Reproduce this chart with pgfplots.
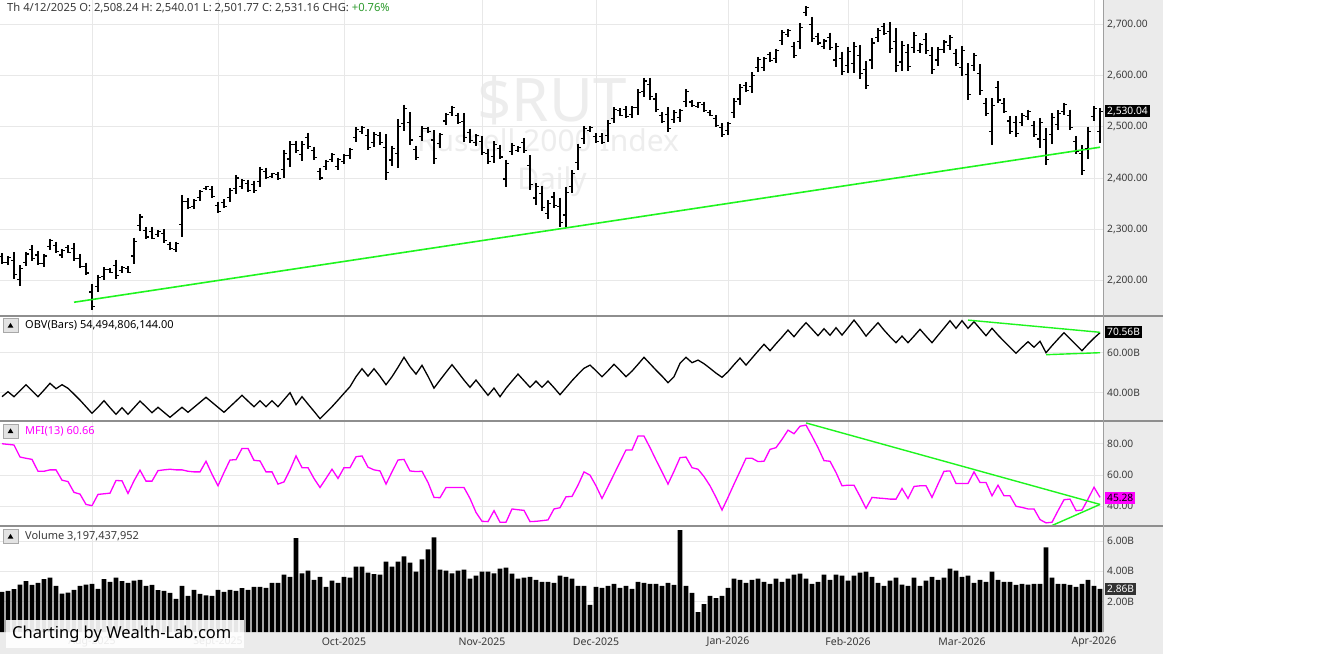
\documentclass[border=0pt]{standalone}
\usepackage{pgfplots}
\pgfplotsset{compat=1.18}
\usepackage{pgfplotstable}
\usepackage{fontspec}
\setmainfont{Noto Sans}
\definecolor{gridc}{HTML}{E8E8E8}
\definecolor{stripc}{HTML}{EBEBEB}
\definecolor{sepc}{HTML}{8E8E8E}
\definecolor{trend}{HTML}{1EF51E}
\definecolor{mfic}{HTML}{FF00FF}
\definecolor{txt}{HTML}{3A3A3A}
\definecolor{wm}{HTML}{EDEDED}
\definecolor{chg}{HTML}{2E9B2E}
\definecolor{btn}{HTML}{E3E3E3}
\definecolor{btnb}{HTML}{A8A8A8}
\definecolor{volbox}{HTML}{333333}

\pgfdeclareplotmark{otick}{\pgfpathmoveto{\pgfqpoint{-2.6pt}{0pt}}\pgfpathlineto{\pgfqpoint{0pt}{0pt}}\pgfusepathqstroke}
\pgfdeclareplotmark{ctick}{\pgfpathmoveto{\pgfqpoint{0pt}{0pt}}\pgfpathlineto{\pgfqpoint{2.6pt}{0pt}}\pgfusepathqstroke}

\pgfplotstableread{
i o h l c
0 2247 2253 2233 2236
1 2235 2248 2230 2245
2 2240 2256 2204 2212
3 2202 2230 2190 2224
4 2236 2256 2228 2252
5 2260 2269 2239 2244
6 2250 2258 2230 2234
7 2234 2252 2227 2248
8 2267 2282 2260 2279
9 2269 2276 2253 2256
10 2250 2261 2245 2259
11 2264 2269 2253 2255
12 2263 2273 2239 2244
13 2244 2252 2224 2228
14 2228 2235 2211 2215
15 2178 2194 2142 2150
16 2188 2212 2178 2207
17 2209 2226 2202 2222
18 2221 2224 2214 2216
19 2230 2241 2204 2210
20 2219 2228 2215 2226
21 2224 2228 2214 2216
22 2248 2284 2232 2276
23 2307 2329 2297 2324
24 2298 2305 2281 2285
25 2296 2305 2281 2283
26 2290 2298 2286 2296
27 2292 2300 2274 2278
28 2271 2276 2260 2262
29 2261 2276 2255 2273
30 2310 2367 2286 2355
31 2354 2361 2339 2342
32 2345 2359 2339 2356
33 2362 2376 2356 2373
34 2379 2384 2377 2383
35 2377 2384 2361 2364
36 2347 2354 2331 2334
37 2353 2359 2341 2344
38 2362 2380 2354 2376
39 2380 2406 2369 2400
40 2384 2398 2378 2395
41 2390 2397 2372 2376
42 2388 2395 2371 2375
43 2394 2422 2382 2416
44 2413 2420 2398 2401
45 2403 2410 2400 2408
46 2407 2411 2397 2399
47 2416 2455 2400 2447
48 2437 2472 2422 2465
49 2466 2473 2449 2453
50 2445 2472 2433 2466
51 2479 2488 2457 2462
52 2454 2461 2436 2440
53 2413 2420 2397 2400
54 2422 2436 2416 2433
55 2436 2448 2431 2445
56 2423 2439 2416 2436
57 2433 2446 2428 2443
58 2444 2459 2437 2456
59 2479 2499 2470 2495
60 2490 2501 2485 2499
61 2483 2495 2454 2460
62 2469 2489 2461 2485
63 2482 2490 2465 2469
64 2459 2485 2397 2410
65 2435 2463 2423 2457
66 2448 2514 2420 2500
67 2507 2543 2491 2535
68 2509 2528 2465 2474
69 2455 2463 2436 2440
70 2481 2501 2472 2497
71 2496 2500 2488 2490
72 2474 2493 2428 2438
73 2468 2488 2459 2484
74 2511 2527 2504 2524
75 2527 2541 2521 2538
76 2521 2527 2506 2509
77 2510 2527 2470 2479
78 2488 2496 2469 2473
79 2469 2485 2462 2482
80 2471 2482 2444 2450
81 2448 2456 2428 2432
82 2442 2472 2429 2466
83 2457 2465 2437 2441
84 2398 2436 2382 2428
85 2451 2468 2444 2464
86 2454 2462 2450 2460
87 2469 2478 2449 2453
88 2424 2444 2377 2387
89 2361 2390 2348 2384
90 2370 2385 2335 2343
91 2331 2357 2320 2351
92 2363 2373 2341 2346
93 2345 2362 2304 2313
94 2328 2383 2305 2371
95 2384 2415 2371 2408
96 2431 2467 2415 2459
97 2477 2501 2466 2496
98 2493 2501 2490 2499
99 2481 2487 2468 2471
100 2481 2487 2466 2469
101 2483 2513 2470 2507
102 2516 2538 2507 2533
103 2531 2536 2520 2522
104 2533 2540 2517 2520
105 2524 2540 2517 2537
106 2538 2573 2523 2566
107 2569 2595 2558 2589
108 2582 2595 2552 2558
109 2554 2565 2528 2534
110 2522 2529 2507 2510
111 2524 2538 2490 2497
112 2514 2532 2507 2528
113 2518 2535 2510 2531
114 2549 2573 2539 2568
115 2548 2552 2539 2541
116 2540 2549 2536 2547
117 2543 2549 2528 2531
118 2528 2532 2520 2522
119 2516 2523 2500 2503
120 2499 2507 2480 2484
121 2492 2510 2484 2506
122 2528 2555 2517 2549
123 2554 2583 2542 2577
124 2581 2587 2568 2571
125 2578 2606 2566 2600
126 2615 2636 2606 2631
127 2616 2636 2608 2632
128 2640 2646 2626 2629
129 2632 2652 2624 2648
130 2668 2688 2659 2684
131 2679 2690 2674 2688
132 2656 2665 2634 2639
133 2666 2702 2651 2694
134 2722 2735 2716 2732
135 2699 2714 2665 2672
136 2676 2683 2659 2663
137 2657 2670 2651 2667
138 2673 2683 2650 2655
139 2630 2663 2616 2656
140 2633 2646 2601 2608
141 2619 2655 2604 2647
142 2623 2665 2605 2656
143 2639 2659 2593 2603
144 2612 2628 2573 2581
145 2630 2672 2612 2663
146 2673 2692 2665 2688
147 2695 2702 2679 2682
148 2686 2704 2643 2652
149 2666 2692 2606 2619
150 2626 2667 2609 2658
151 2645 2661 2609 2617
152 2655 2684 2643 2678
153 2649 2663 2643 2660
154 2670 2682 2642 2648
155 2639 2655 2603 2611
156 2630 2655 2619 2650
157 2651 2669 2644 2665
158 2658 2678 2650 2674
159 2642 2652 2618 2623
160 2616 2657 2599 2648
161 2602 2624 2552 2563
162 2620 2644 2609 2639
163 2604 2622 2562 2571
164 2545 2555 2520 2525
165 2491 2555 2464 2541
166 2576 2589 2546 2552
167 2546 2555 2526 2530
168 2511 2521 2486 2491
169 2508 2520 2480 2486
170 2508 2526 2501 2522
171 2519 2533 2513 2530
172 2502 2511 2480 2485
173 2476 2517 2458 2508
174 2475 2497 2425 2436
175 2484 2527 2466 2518
176 2505 2532 2493 2526
177 2530 2547 2523 2543
178 2521 2533 2493 2499
179 2472 2482 2447 2452
180 2447 2464 2406 2415
181 2457 2500 2438 2491
182 2520 2540 2512 2536
183 2490 2536 2468 2530
}\ohlc

\pgfplotstableread{
i obv mfi v
0 38.0 80.0 2.64
1 40.5 79.6 2.71
2 38.0 79.2 2.82
3 41.0 71.5 3.13
4 44.0 70.7 3.36
5 41.0 70.0 3.11
6 38.0 62.4 3.24
7 41.3 62.4 3.49
8 44.7 63.3 3.58
9 42.0 63.3 3.04
10 44.0 56.7 2.53
11 42.2 55.8 2.60
12 39.3 48.9 2.78
13 36.3 47.8 3.04
14 33.0 41.2 3.13
15 29.7 40.4 3.18
16 32.7 47.6 2.84
17 36.0 48.0 3.49
18 32.5 48.4 3.31
19 29.2 56.5 3.58
20 32.5 56.3 3.36
21 29.2 48.2 3.24
22 32.5 56.3 3.38
23 35.8 63.1 3.44
24 33.0 56.1 3.04
25 30.0 56.1 3.11
26 32.7 62.8 2.76
27 30.2 63.3 2.71
28 27.7 63.7 2.58
29 30.2 63.3 2.18
30 32.7 63.3 3.04
31 30.2 62.4 2.38
32 32.7 62.0 2.78
33 35.2 62.0 2.51
34 37.7 68.8 2.42
35 35.2 60.5 2.38
36 32.7 53.1 2.78
37 30.2 61.6 2.64
38 33.0 69.6 2.78
39 35.8 69.8 2.71
40 38.7 77.0 2.89
41 35.8 77.0 2.78
42 33.0 69.4 2.98
43 36.0 69.0 2.98
44 33.0 62.0 2.91
45 36.0 62.0 3.24
46 33.0 54.2 3.24
47 36.5 55.6 3.78
48 40.0 63.3 3.64
49 34.0 72.2 6.18
50 38.0 64.7 3.87
51 34.3 64.7 4.04
52 30.7 57.8 3.44
53 27.0 52.0 3.64
54 30.0 57.8 2.98
55 33.0 63.7 3.38
56 36.3 57.8 3.24
57 39.7 64.7 3.64
58 43.0 64.7 3.58
59 48.0 71.7 4.31
60 52.0 72.2 4.31
61 48.3 65.0 3.91
62 52.0 63.3 3.82
63 48.2 62.6 3.78
64 44.0 54.2 4.64
65 48.0 62.0 4.31
66 52.7 69.6 4.64
67 57.7 70.0 4.98
68 53.0 62.6 4.58
69 49.3 62.2 3.98
70 53.7 62.4 4.78
71 48.2 55.2 5.44
72 42.3 45.7 6.24
73 46.3 45.5 4.11
74 50.2 52.0 4.04
75 54.0 52.0 3.87
76 50.2 52.0 4.04
77 46.3 52.0 4.11
78 42.7 45.0 3.51
79 46.3 36.1 3.71
80 42.5 30.4 3.98
81 38.7 30.2 3.98
82 42.3 37.2 3.87
83 38.0 29.8 4.18
84 42.2 29.8 4.24
85 45.8 38.3 3.84
86 49.3 37.8 3.51
87 46.0 37.4 3.58
88 42.7 30.2 3.64
89 45.8 30.4 3.44
90 42.7 30.8 3.31
91 45.8 31.3 3.31
92 42.5 38.3 3.24
93 39.0 39.1 3.71
94 42.5 46.1 3.64
95 46.0 46.3 3.51
96 49.2 53.5 3.04
97 52.2 62.0 3.04
98 53.8 59.9 1.78
99 51.0 53.1 2.98
100 48.0 45.0 2.91
101 51.0 52.7 3.04
102 54.2 60.5 3.18
103 51.2 68.3 2.91
104 48.0 76.0 3.04
105 50.8 76.0 2.84
106 54.2 84.9 3.31
107 57.7 84.9 3.24
108 54.5 77.5 3.18
109 51.3 69.6 3.18
110 48.3 62.0 3.04
111 45.0 54.2 3.24
112 48.0 62.4 3.11
113 54.7 71.1 6.71
114 57.7 71.5 3.04
115 55.0 64.7 2.58
116 56.3 63.7 1.31
117 54.5 59.0 1.84
118 52.2 53.1 2.38
119 49.8 45.7 2.24
120 47.7 37.6 2.38
121 50.5 45.7 2.91
122 54.0 54.2 3.51
123 57.3 62.4 3.44
124 53.8 70.7 3.24
125 57.3 70.7 3.44
126 60.8 68.6 3.51
127 64.2 68.8 3.31
128 61.0 76.4 3.18
129 64.5 77.5 3.51
130 67.8 82.8 3.31
131 71.3 88.7 3.51
132 68.0 86.4 3.78
133 71.7 91.2 3.84
134 75.0 91.9 3.51
135 71.8 84.9 3.18
136 68.5 77.5 3.31
137 72.0 69.2 3.78
138 68.7 68.8 3.44
139 72.5 61.6 3.78
140 68.8 53.1 3.71
141 72.5 53.5 3.38
142 76.3 53.5 3.71
143 72.5 46.3 3.91
144 68.3 38.7 3.98
145 71.7 45.7 3.64
146 75.0 45.3 3.24
147 71.3 45.0 3.04
148 68.0 44.6 3.38
149 65.0 44.6 3.58
150 68.3 51.4 3.13
151 65.0 45.0 3.04
152 68.3 52.7 3.58
153 71.7 53.1 3.04
154 68.3 53.1 3.38
155 65.0 45.7 3.64
156 68.7 54.2 3.44
157 72.3 62.4 3.58
158 76.0 62.6 4.18
159 72.2 54.6 4.04
160 76.0 54.6 3.64
161 72.2 54.6 3.71
162 75.5 62.0 3.24
163 72.0 55.2 3.44
164 68.5 55.2 3.31
165 72.2 46.7 3.98
166 68.8 53.5 3.44
167 65.7 46.7 3.31
168 62.7 46.7 3.31
169 59.7 40.0 3.11
170 62.7 39.3 3.18
171 65.5 38.3 3.13
172 62.7 38.3 3.18
173 65.7 31.5 3.18
174 60.0 29.4 5.58
175 63.5 29.8 3.58
176 66.8 37.2 3.18
177 70.0 44.2 3.18
178 67.0 44.6 3.11
179 64.0 37.2 2.98
180 61.0 37.6 3.18
181 64.3 44.6 3.44
182 67.3 52.2 3.04
183 70.0 45.7 2.84
}\ind

\pgfplotsset{pane/.style={
  scale only axis, width=1103pt, xmin=-0.3333, xmax=183.5, anchor=south west,
  axis line style={draw=none}, tick style={draw=none}, major tick length=0pt,
  xtick={15,36,57,80,99,121,141,160,182}, xticklabels={},
  xmajorgrids, ymajorgrids, grid style={gridc, line width=0.9pt},
  yticklabel pos=right,
  yticklabel style={anchor=west, inner sep=0pt, xshift=4pt, font=\fontsize{10.2}{12}\selectfont, text=txt},
}}

\begin{document}
\begin{tikzpicture}[x=1pt,y=1pt]
\fill[white] (0,0) rectangle (1322,654);
\fill[stripc] (1103,0) rectangle (1163,654);
\fill[stripc] (0,0) rectangle (1163,22);
% watermark
\node[font=\fontsize{60}{60}\selectfont\bfseries, text=wm] at (552,554) {\$RUT};
\node[font=\fontsize{30}{30}\selectfont\bfseries, text=wm] at (548,514) {Russell 2000 Index};
\node[font=\fontsize{30}{30}\selectfont\bfseries, text=wm] at (552,472) {Daily};

% price pane
\begin{axis}[pane, at={(0pt,338pt)}, height=316pt, ymin=2131.2, ymax=2746.8,
  ytick={2200,2300,2400,2500,2600,2700},
  yticklabels={{2,200.00},{2,300.00},{2,400.00},{2,500.00},{2,600.00},{2,700.00}}]
\addplot[draw=none, mark=none, forget plot, error bars/.cd, y dir=minus, y explicit, error mark=none,
  error bar style={draw=black, line width=1.1pt}]
  table[x=i, y=h, y error expr=\thisrow{h}-\thisrow{l}] {\ohlc};
\addplot[only marks, mark=otick, mark options={black, line width=1.1pt}] table[x=i, y=o] {\ohlc};
\addplot[only marks, mark=ctick, mark options={black, line width=1.1pt}] table[x=i, y=c] {\ohlc};
\addplot[trend, line width=1.6pt] coordinates {(12,2158) (183,2460)};
\end{axis}

% OBV pane
\begin{axis}[pane, at={(0pt,233pt)}, height=104pt, ymin=25.85, ymax=77.85,
  ytick={40,60}, yticklabels={40.00B,60.00B}]
\addplot[black, line width=1.3pt] table[x=i, y=obv] {\ind};
\addplot[trend, line width=1.4pt] coordinates {(161,76.3) (183,70.2)};
\addplot[trend, line width=1.4pt] coordinates {(174,59.0) (183,60.0)};
\end{axis}

% MFI pane
\begin{axis}[pane, at={(0pt,128pt)}, height=104pt, ymin=27.4, ymax=93.9,
  ytick={40,60,80}, yticklabels={40.00,60.00,80.00}]
\addplot[mfic, line width=1.3pt] table[x=i, y=mfi] {\ind};
\addplot[trend, line width=1.4pt] coordinates {(134,93.3) (183,41.2)};
\addplot[trend, line width=1.4pt] coordinates {(175,27.7) (183,41.2)};
\end{axis}

% Volume pane
\begin{axis}[pane, at={(0pt,22pt)}, height=105pt, ymin=0, ymax=6.92,
  ytick={2,4,6}, yticklabels={2.00B,4.00B,6.00B},
  xticklabels={Aug-2025,Sept-2025,Oct-2025,Nov-2025,Dec-2025,Jan-2026,Feb-2026,Mar-2026,Apr-2026},
  xticklabel style={anchor=center, yshift=-10pt, font=\fontsize{10.5}{12}\selectfont, text=txt}]
\addplot[ybar, bar width=4.6pt, fill=black, draw=none] table[x=i, y=v] {\ind};
\end{axis}

% separators
\draw[sepc, line width=1.3pt] (0,338) -- (1163,338);
\draw[sepc, line width=1.3pt] (0,233) -- (1163,233);
\draw[sepc, line width=1.3pt] (0,128) -- (1163,128);
\draw[sepc!85, line width=1pt] (1103,22) -- (1103,654);

% header
\node[anchor=west, inner sep=0pt, font=\fontsize{11.2}{13}\selectfont, text=txt] at (7,646)
  {Th 4/12/2025 \textbf{O:} 2,508.24 \textbf{H:} 2,540.01 \textbf{L:} 2,501.77 \textbf{C:} 2,531.16 \textbf{CHG:} \textcolor{chg}{+0.76\%}};

% pane buttons and titles
\foreach \yc in {328.5,223,117.5}{
  \filldraw[fill=btn, draw=btnb, line width=0.6pt] (3,\yc-7) rectangle (18,\yc+7);
  \fill[black] (7.6,\yc-2.2) -- (13.4,\yc-2.2) -- (10.5,\yc+2.6) -- cycle;
}
\node[anchor=west, inner sep=0pt, font=\fontsize{11}{13}\selectfont, text=black] at (25,328.5) {OBV(Bars) 54,494,806,144.00};
\node[anchor=west, inner sep=0pt, font=\fontsize{11}{13}\selectfont, text=mfic] at (25,223) {MFI(13) 60.66};
\node[anchor=west, inner sep=0pt, font=\fontsize{11}{13}\selectfont, text=txt] at (25,117.5) {Volume 3,197,437,952};

% last value boxes
\node[anchor=west, fill=black, text=white, inner sep=2pt, font=\fontsize{10.2}{12}\selectfont] at (1105,543) {2,530.04};
\node[anchor=west, fill=black, text=white, inner sep=2pt, font=\fontsize{10.2}{12}\selectfont] at (1105,322) {70.56B};
\node[anchor=west, fill=mfic, text=black, inner sep=2pt, font=\fontsize{10.2}{12}\selectfont] at (1105,156) {45.28};
\node[anchor=west, fill=volbox, text=white, inner sep=2pt, font=\fontsize{10.2}{12}\selectfont] at (1105,65) {2.86B};

% credit box
\fill[white, opacity=0.9] (6,6) rectangle (244,34);
\node[anchor=west, inner sep=0pt, font=\fontsize{16.5}{18}\selectfont, text=black] at (12,20) {Charting by Wealth-Lab.com};

\pgfresetboundingbox
\path[use as bounding box] (0,0) rectangle (1322,654);
\end{tikzpicture}
\end{document}
